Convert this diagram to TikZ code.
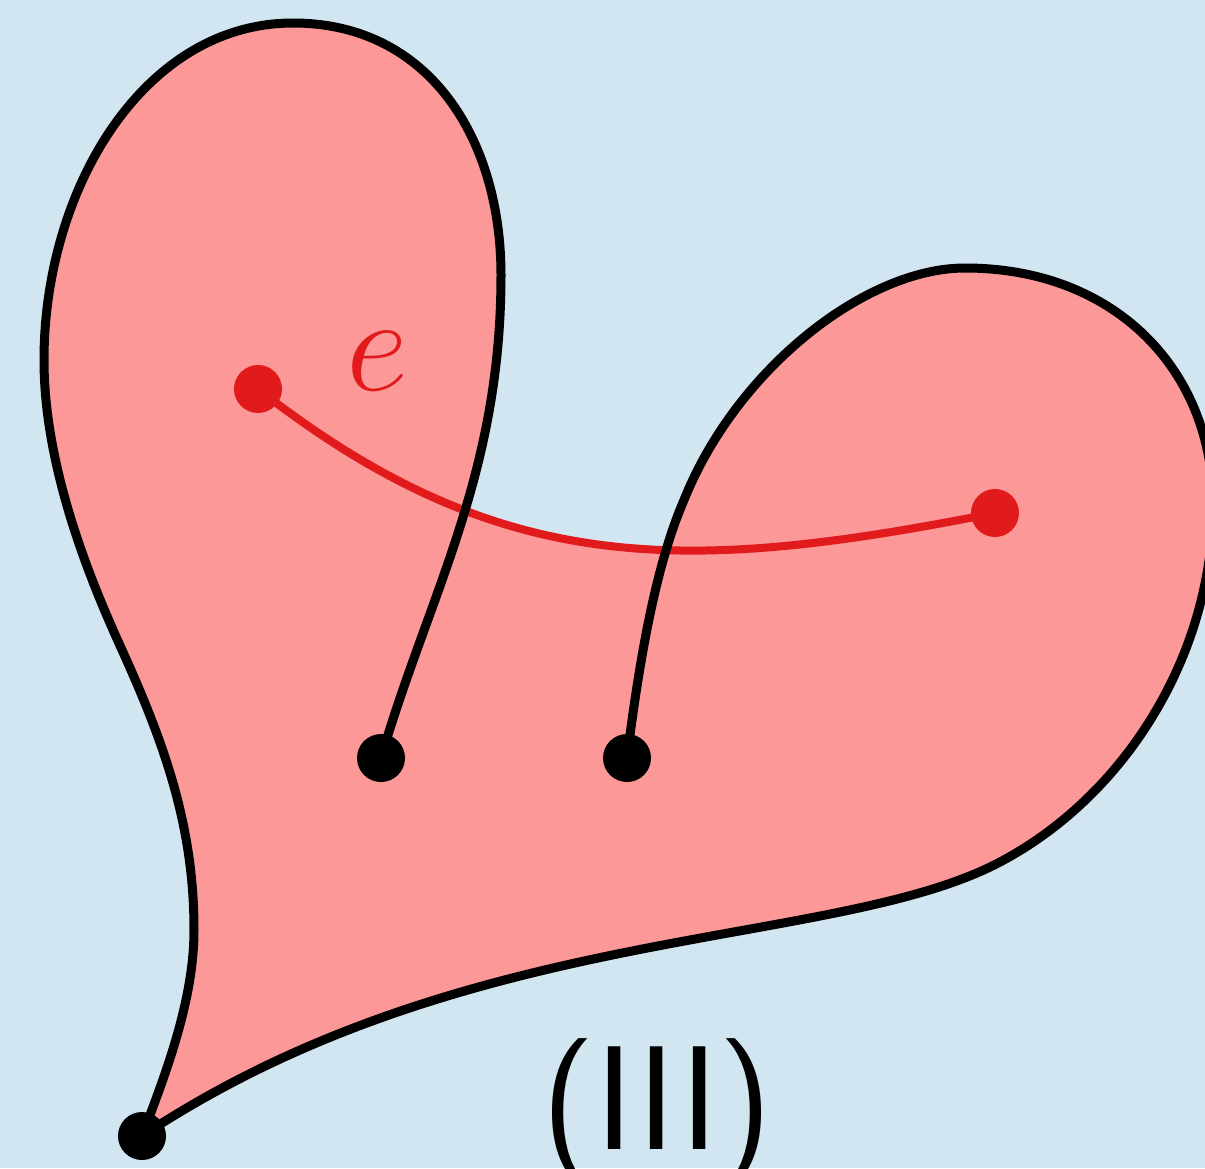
\RequirePackage{fix-cm}
\documentclass[tikz,border=0pt]{standalone}
\definecolor{bgc}{RGB}{210,230,241}
\definecolor{pinkc}{RGB}{252,152,152}
\definecolor{redc}{RGB}{225,26,28}
\begin{document}
\begin{tikzpicture}[x=0.5pt,y=-0.5pt,line join=round,
  outline/.style={line width=4.5pt,draw=black,line cap=round},
  redline/.style={line width=4pt,draw=redc,line cap=round},
  blackdot/.style={circle,fill=black,minimum size=24pt,inner sep=0pt},
  reddot/.style={circle,fill=redc,minimum size=24pt,inner sep=0pt}]
\fill[bgc] (0,0) rectangle (1205,1168);
\useasboundingbox (0,0) rectangle (1205,1168);
\coordinate (p1) at (381,758);
\coordinate (p2) at (627,758);
\coordinate (tip) at (142,1136);
\coordinate (r1) at (258,389);
\coordinate (r2) at (995,513);
% main pink region
\fill[pinkc] (p1) .. controls (429,594) and (501,475) .. (501,275)
 .. controls (501,140) and (430,23) .. (293,23)
 .. controls (143,23) and (44,190) .. (44,360)
 .. controls (44,470) and (92,584) .. (122,650)
 .. controls (167,749) and (194,830) .. (194,930)
 .. controls (194,1000) and (166,1073) .. (tip)
 .. controls (466,921) and (834,950) .. (1000,862)
 .. controls (1125,796) and (1213,655) .. (1213,505)
 .. controls (1213,370) and (1115,268) .. (965,268)
 .. controls (865,268) and (736,370) .. (684,500)
 .. controls (654,569) and (638,671) .. (p2) -- cycle;
% pink part of the cleft below the red curve
\begin{scope}
\clip (r1) .. controls (499,577) and (683,575) .. (r2) -- (995,1168) -- (258,1168) -- cycle;
\fill[pinkc] (p1) .. controls (429,594) and (501,475) .. (501,275) -- (684,500)
 .. controls (654,569) and (638,671) .. (p2) -- cycle;
\end{scope}
% red edge
\draw[redline] (r1) .. controls (499,577) and (683,575) .. (r2);
% black outline
\draw[outline] (p1) .. controls (429,594) and (501,475) .. (501,275)
 .. controls (501,140) and (430,23) .. (293,23)
 .. controls (143,23) and (44,190) .. (44,360)
 .. controls (44,470) and (92,584) .. (122,650)
 .. controls (167,749) and (194,830) .. (194,930)
 .. controls (194,1000) and (166,1073) .. (tip);
\draw[outline] (tip) .. controls (466,921) and (834,950) .. (1000,862)
 .. controls (1125,796) and (1213,655) .. (1213,505)
 .. controls (1213,370) and (1115,268) .. (965,268)
 .. controls (865,268) and (736,370) .. (684,500)
 .. controls (654,569) and (638,671) .. (p2);
% dots
\node[blackdot] (d1) at (p1) {};
\node[blackdot] (d2) at (p2) {};
\node[blackdot] (d3) at (tip) {};
\node[reddot] (e1) at (r1) {};
\node[reddot] (e2) at (r2) {};
% labels
\node[anchor=base,text=redc,inner sep=0pt] (lab) at (377,390) {\fontsize{68}{68}\selectfont$e$};
\node[anchor=base,inner sep=0pt] (num) at (657,1149) {\sffamily\fontsize{74}{74}\selectfont (III)};
\end{tikzpicture}
\end{document}
